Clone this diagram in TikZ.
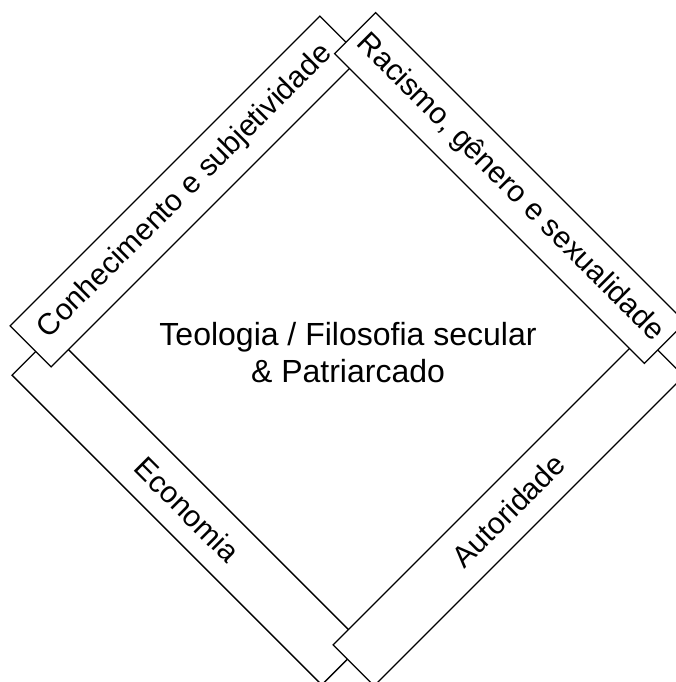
\documentclass[tikz,border=0pt]{standalone}
\usepackage{fontspec}
\setmainfont{Liberation Sans}
\begin{document}
\begin{tikzpicture}[x=1pt,y=1pt,
  bar/.style={draw=black, line width=1.3pt, fill=white, inner sep=0pt,
    minimum width=438pt, minimum height=58pt,
    font=\fontsize{30}{34}\selectfont},
  centertext/.style={align=center, inner sep=0pt,
    font=\fontsize{32}{36.5}\selectfont}]
\useasboundingbox (0,0) rectangle (676,682);
\clip (0,0) rectangle (676,682);
\node[bar, rotate=-45] (eco) at (187.4,172.5) {Economia};
\node[bar, rotate=45] (con) at (185.5,490.5) {Conhecimento e subjetividade};
\node[bar, rotate=45] (aut) at (508.5,171.5) {Autoridade};
\node[bar, rotate=-45] (rac) at (510,494) {Racismo, gênero e sexualidade};
\node[centertext] (teo) at (348,329.5) {Teologia / Filosofia secular\\\& Patriarcado};
\end{tikzpicture}
\end{document}
